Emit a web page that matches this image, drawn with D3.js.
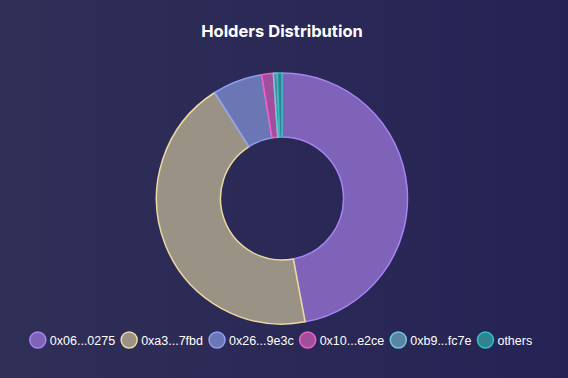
<html>
<head>
<style>
  * { margin: 0; padding: 0; }
  body { width: 568px; height: 378px; overflow: hidden; }
  svg { display: block; }
</style>
<script src="https://cdn.jsdelivr.net/npm/d3@7"></script>
</head>
<body>
<svg id="chart" width="568" height="378"></svg>
<script>
var holders = ["0x06...0275", "0xa3...7fbd", "0x26...9e3c", "0x10...e2ce", "0xb9...fc7e", "others"];
var shares = [47.1, 44.0, 6.4, 1.5, 0.5, 0.6];
var fills = ["#7e63b9", "#9a9284", "#6b76b4", "#a04f9b", "#5a84a2", "#2e8590"];
var strokes = ["#a883f5", "#eed9a0", "#8e9ef2", "#f05fc4", "#6fcbe0", "#2fc0c0"];

var W = 568, H = 378;
var svg = d3.select("#chart");

// background gradient
var defs = svg.append("defs");
var grad = defs.append("linearGradient").attr("id", "bg").attr("x1", 0).attr("x2", 1).attr("y1", 0).attr("y2", 0);
grad.append("stop").attr("offset", "0%").attr("stop-color", "#302f58");
grad.append("stop").attr("offset", "100%").attr("stop-color", "#252354");
svg.append("rect").attr("width", W).attr("height", H).attr("fill", "url(#bg)");

// title
svg.append("text")
  .attr("x", 282).attr("y", 37)
  .attr("text-anchor", "middle")
  .attr("fill", "#ffffff")
  .style("font-family", "Inter, 'Noto Sans', sans-serif")
  .style("font-weight", "700")
  .style("font-size", "16.5px")
  .text("Holders Distribution");

// donut
var cx = 282, cy = 198.5, rOut = 125.5, rIn = 61.5;
var pie = d3.pie().sort(null).value(function(d){ return d; });
var arc = d3.arc().innerRadius(rIn).outerRadius(rOut);
var g = svg.append("g").attr("transform", "translate(" + cx + "," + cy + ")");
g.selectAll("path")
  .data(pie(shares))
  .enter().append("path")
  .attr("d", arc)
  .attr("fill", function(d, i){ return fills[i]; })
  .attr("stroke", function(d, i){ return strokes[i]; })
  .attr("stroke-width", 1.5)
  .attr("stroke-linejoin", "round");

// legend
var legend = svg.append("g");
var items = legend.selectAll("g").data(holders).enter().append("g");
items.append("circle")
  .attr("r", 8).attr("cx", 0).attr("cy", 0)
  .attr("fill", function(d, i){ return fills[i]; })
  .attr("stroke", function(d, i){ return strokes[i]; })
  .attr("stroke-width", 1.5);
items.append("text")
  .attr("x", 12).attr("y", 4.5)
  .attr("fill", "#ffffff")
  .style("font-family", "'Liberation Sans', Arial, sans-serif")
  .style("font-size", "12.5px")
  .text(function(d){ return d; });

// place items one after another and centre the row
var xPos = 0, positions = [], lastEnd = 0;
items.each(function(d, i){
  var tw = this.querySelector("text").getComputedTextLength();
  positions.push(xPos);
  lastEnd = xPos + 12 + tw;
  xPos += 12 + tw + 14;
});
var total = lastEnd + 8;
var startX = 281 - total / 2 + 8;
items.attr("transform", function(d, i){ return "translate(" + (startX + positions[i]) + ",340)"; });
</script>
</body>
</html>
